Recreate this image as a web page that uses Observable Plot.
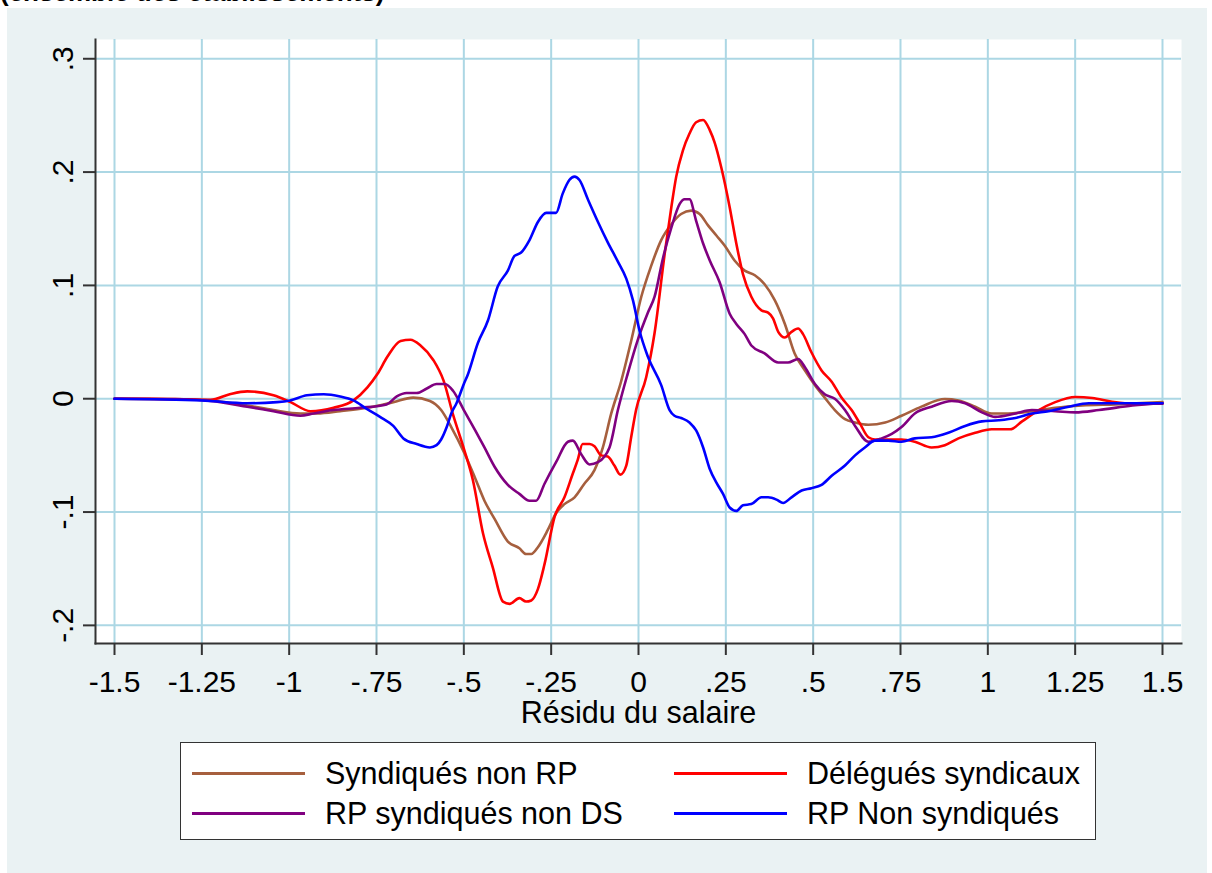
<!DOCTYPE html>
<html>
<head>
<meta charset="utf-8">
<script src="https://cdn.jsdelivr.net/npm/d3@7"></script>
<script src="https://cdn.jsdelivr.net/npm/@observablehq/plot@0.6"></script>
<style>
  body { margin: 0; background: #fff; font-family: "Liberation Sans", Arial, sans-serif; }
  #title { position: absolute; left: 0; top: -21px; font-size: 26px; font-weight: bold; line-height: 1; white-space: nowrap; color: #000; }
  #chart { position: absolute; left: 7px; top: 8px; width: 1200px; height: 865px; background: #eaf2f3; }
  #plot { position: absolute; left: 0; top: 0; }
  #legend { position: absolute; left: 173px; top: 734px; width: 914px; height: 96px; background: #fff; border: 1.5px solid #333; }
  .item { position: absolute; display: flex; align-items: center; height: 34px; font-size: 30.5px; color: #000; white-space: nowrap; }
  .swatch { width: 113px; height: 3px; margin-right: 20px; }
</style>
</head>
<body>
<div id="title">(ensemble des établissements)</div>
<div id="chart">
  <div id="plot"></div>
  <div id="legend"></div>
</div>
<script>
// ---- Data ----
const seriesNames = ["Syndiqués non RP", "Délégués syndicaux", "RP syndiqués non DS", "RP Non syndiqués"];
const seriesColors = ["#a65f3e", "#ff0000", "#800080", "#0000ff"];

const xTicks = [-1.5, -1.25, -1, -0.75, -0.5, -0.25, 0, 0.25, 0.5, 0.75, 1, 1.25, 1.5];
const xTickLabels = ["-1.5", "-1.25", "-1", "-.75", "-.5", "-.25", "0", ".25", ".5", ".75", "1", "1.25", "1.5"];
const yTicks = [-0.2, -0.1, 0, 0.1, 0.2, 0.3];
const yTickLabels = ["-.2", "-.1", "0", ".1", ".2", ".3"];
const xAxisTitle = "Résidu du salaire";

// Syndiqués non RP (brown)
const brownX = [-1.5, -1.3, -1.225, -1.12, -1.045, -0.968, -0.92, -0.854, -0.778, -0.702, -0.645, -0.597, -0.565, -0.536, -0.5, -0.469, -0.441, -0.412, -0.374, -0.341, -0.322, -0.307, -0.288, -0.26, -0.236, -0.212, -0.183, -0.155, -0.126, -0.102, -0.078, -0.05, -0.021, 0.008, 0.036, 0.065, 0.094, 0.122, 0.151, 0.175, 0.199, 0.223, 0.247, 0.275, 0.304, 0.333, 0.361, 0.39, 0.419, 0.447, 0.476, 0.505, 0.533, 0.562, 0.591, 0.62, 0.658, 0.706, 0.753, 0.81, 0.877, 0.916, 0.964, 1.011, 1.059, 1.126, 1.193, 1.27, 1.366, 1.5];
const brownY = [0, -0.0005, -0.0015, -0.006, -0.01, -0.013, -0.013, -0.011, -0.008, -0.003, 0.001, -0.002, -0.01, -0.025, -0.047, -0.069, -0.09, -0.106, -0.126, -0.132, -0.137, -0.137, -0.131, -0.116, -0.101, -0.093, -0.087, -0.075, -0.063, -0.043, -0.013, 0.015, 0.051, 0.09, 0.117, 0.14, 0.154, 0.163, 0.166, 0.163, 0.153, 0.144, 0.135, 0.122, 0.113, 0.109, 0.101, 0.087, 0.066, 0.04, 0.025, 0.012, 0.001, -0.01, -0.018, -0.021, -0.023, -0.021, -0.015, -0.007, -0.0003, -0.0015, -0.007, -0.013, -0.013, -0.011, -0.008, -0.006, -0.005, -0.003];

// Délégués syndicaux (red)
const redX = [-1.5, -1.4, -1.3, -1.225, -1.17, -1.12, -1.045, -0.996, -0.939, -0.873, -0.816, -0.776, -0.747, -0.719, -0.681, -0.653, -0.624, -0.587, -0.558, -0.53, -0.5, -0.474, -0.445, -0.417, -0.388, -0.369, -0.341, -0.322, -0.307, -0.288, -0.269, -0.24, -0.212, -0.188, -0.174, -0.16, -0.14, -0.126, -0.107, -0.088, -0.069, -0.052, -0.035, -0.021, -0.007, 0.022, 0.046, 0.075, 0.094, 0.108, 0.127, 0.146, 0.165, 0.185, 0.204, 0.218, 0.237, 0.261, 0.28, 0.299, 0.323, 0.352, 0.371, 0.385, 0.4, 0.419, 0.438, 0.457, 0.471, 0.495, 0.524, 0.553, 0.581, 0.61, 0.634, 0.658, 0.677, 0.715, 0.753, 0.791, 0.839, 0.877, 0.916, 0.964, 1.011, 1.064, 1.098, 1.146, 1.193, 1.251, 1.299, 1.356, 1.414, 1.5];
const redY = [0, 0, -0.0005, -0.001, 0.004, 0.0065, 0.003, -0.003, -0.011, -0.008, -0.0015, 0.01, 0.022, 0.037, 0.051, 0.052, 0.047, 0.034, 0.016, -0.015, -0.044, -0.072, -0.119, -0.149, -0.179, -0.181, -0.176, -0.179, -0.178, -0.168, -0.146, -0.104, -0.087, -0.066, -0.054, -0.04, -0.04, -0.042, -0.05, -0.051, -0.059, -0.067, -0.059, -0.034, -0.01, 0.019, 0.058, 0.128, 0.169, 0.196, 0.219, 0.234, 0.244, 0.246, 0.237, 0.226, 0.204, 0.169, 0.137, 0.11, 0.09, 0.078, 0.076, 0.071, 0.059, 0.054, 0.059, 0.062, 0.057, 0.041, 0.025, 0.015, 0.001, -0.01, -0.022, -0.034, -0.036, -0.036, -0.036, -0.038, -0.043, -0.041, -0.035, -0.03, -0.027, -0.027, -0.02, -0.01, -0.003, 0.0015, 0.0006, -0.0026, -0.0044, -0.0044];

// RP syndiqués non DS (purple)
const purpleX = [-1.5, -1.3, -1.225, -1.12, -1.045, -0.968, -0.93, -0.873, -0.797, -0.721, -0.692, -0.664, -0.635, -0.606, -0.578, -0.554, -0.531, -0.5, -0.469, -0.441, -0.412, -0.374, -0.341, -0.312, -0.293, -0.269, -0.236, -0.202, -0.188, -0.164, -0.14, -0.116, -0.083, -0.059, -0.031, -0.002, 0.027, 0.046, 0.07, 0.094, 0.118, 0.132, 0.146, 0.165, 0.185, 0.204, 0.232, 0.261, 0.28, 0.304, 0.323, 0.361, 0.4, 0.428, 0.457, 0.476, 0.505, 0.533, 0.562, 0.591, 0.62, 0.658, 0.696, 0.725, 0.753, 0.791, 0.839, 0.897, 0.935, 0.983, 1.021, 1.079, 1.126, 1.193, 1.251, 1.318, 1.414, 1.5];
const purpleY = [0, -0.0005, -0.002, -0.007, -0.011, -0.015, -0.013, -0.01, -0.008, -0.005, 0.002, 0.005, 0.005, 0.009, 0.013, 0.013, 0.007, -0.01, -0.027, -0.043, -0.06, -0.076, -0.084, -0.09, -0.09, -0.075, -0.056, -0.038, -0.037, -0.049, -0.058, -0.056, -0.043, -0.01, 0.022, 0.052, 0.076, 0.09, 0.124, 0.151, 0.172, 0.176, 0.176, 0.157, 0.137, 0.122, 0.103, 0.075, 0.066, 0.057, 0.047, 0.04, 0.032, 0.032, 0.035, 0.028, 0.013, 0.004, 0, -0.01, -0.024, -0.038, -0.035, -0.031, -0.025, -0.013, -0.007, -0.002, -0.004, -0.012, -0.016, -0.013, -0.01, -0.011, -0.012, -0.01, -0.006, -0.004];

// RP Non syndiqués (blue)
const blueX = [-1.5, -1.25, -1.12, -1.035, -0.997, -0.949, -0.901, -0.854, -0.816, -0.778, -0.74, -0.702, -0.673, -0.635, -0.597, -0.578, -0.565, -0.549, -0.536, -0.521, -0.5, -0.489, -0.46, -0.431, -0.403, -0.374, -0.355, -0.336, -0.312, -0.288, -0.264, -0.236, -0.217, -0.198, -0.183, -0.169, -0.145, -0.116, -0.088, -0.059, -0.035, -0.016, 0.003, 0.027, 0.065, 0.089, 0.103, 0.122, 0.146, 0.165, 0.185, 0.204, 0.223, 0.242, 0.261, 0.28, 0.299, 0.323, 0.352, 0.371, 0.395, 0.414, 0.438, 0.467, 0.495, 0.524, 0.553, 0.591, 0.62, 0.648, 0.677, 0.715, 0.753, 0.791, 0.839, 0.887, 0.935, 0.983, 1.031, 1.079, 1.126, 1.174, 1.232, 1.289, 1.366, 1.5];
const blueY = [0, -0.0015, -0.004, -0.003, -0.0015, 0.003, 0.004, 0.002, -0.0015, -0.009, -0.016, -0.024, -0.035, -0.04, -0.043, -0.041, -0.036, -0.025, -0.013, -0.004, 0.013, 0.021, 0.049, 0.069, 0.099, 0.113, 0.126, 0.129, 0.14, 0.156, 0.164, 0.164, 0.181, 0.193, 0.196, 0.193, 0.176, 0.156, 0.138, 0.121, 0.106, 0.087, 0.06, 0.037, 0.012, -0.01, -0.015, -0.017, -0.021, -0.028, -0.043, -0.062, -0.074, -0.084, -0.096, -0.099, -0.094, -0.093, -0.087, -0.087, -0.089, -0.092, -0.087, -0.081, -0.079, -0.076, -0.068, -0.059, -0.05, -0.043, -0.037, -0.037, -0.038, -0.035, -0.034, -0.03, -0.024, -0.02, -0.019, -0.017, -0.013, -0.011, -0.007, -0.004, -0.004, -0.004];

// ---- Build table ----
const seriesXY = [[brownX, brownY], [redX, redY], [purpleX, purpleY], [blueX, blueY]];
const rows = [];
seriesXY.forEach(([xs, ys], s) => xs.forEach((x, i) => rows.push({series: seriesNames[s], x, y: ys[i]})));

const xMin = -1.5544, xMax = 1.5544, yMin = -0.216, yMax = 0.317;
const font = "Liberation Sans, Arial, sans-serif";
const fs = 30;

const chart = Plot.plot({
  width: 1200,
  height: 722,
  marginLeft: 88,
  marginRight: 26,
  marginTop: 31,
  marginBottom: 87,
  style: {background: "transparent", fontFamily: font, fontSize: fs + "px", color: "#000", overflow: "visible"},
  x: {domain: [xMin, xMax]},
  y: {domain: [yMin, yMax]},
  color: {domain: seriesNames, range: seriesColors},
  marks: [
    Plot.frame({fill: "white", stroke: "none"}),
    Plot.gridX(xTicks, {stroke: "#acd7e4", strokeOpacity: 1, strokeWidth: 2}),
    Plot.gridY(yTicks, {stroke: "#acd7e4", strokeOpacity: 1, strokeWidth: 2}),
    Plot.line(rows, {x: "x", y: "y", z: "series", stroke: "series", strokeWidth: 2.6, curve: "monotone-x"}),
    Plot.axisX(xTicks, {
      tickFormat: d => xTickLabels[xTicks.indexOf(d)],
      tickSize: 12, tickPadding: 15, stroke: "#333", strokeWidth: 2, fill: "#000",
      fontSize: fs, label: null
    }),
    Plot.axisY(yTicks, {tickFormat: () => "", tickSize: 12, stroke: "#333", strokeWidth: 2, label: null}),
    Plot.text(yTicks, {
      frameAnchor: "left", y: d => d, text: d => yTickLabels[yTicks.indexOf(d)],
      rotate: -90, textAnchor: "middle", lineAnchor: "bottom", dx: -23, fontSize: fs, fill: "#000"
    }),
    Plot.frame({anchor: "left", stroke: "#333", strokeWidth: 2}),
    Plot.frame({anchor: "bottom", stroke: "#333", strokeWidth: 2}),
    Plot.text([xAxisTitle], {frameAnchor: "bottom", dy: 70, lineAnchor: "middle", fontSize: 30.5, fill: "#000"})
  ]
});
document.getElementById("plot").appendChild(chart);

// ---- Legend ----
const legend = document.getElementById("legend");
const positions = [[11, 13], [493, 13], [11, 53], [493, 53]];
seriesNames.forEach((name, i) => {
  const item = document.createElement("div");
  item.className = "item";
  item.style.left = positions[i][0] + "px";
  item.style.top = positions[i][1] + "px";
  const sw = document.createElement("div");
  sw.className = "swatch";
  sw.style.background = seriesColors[i];
  const label = document.createElement("span");
  label.textContent = name;
  item.appendChild(sw);
  item.appendChild(label);
  legend.appendChild(item);
});
</script>
</body>
</html>
